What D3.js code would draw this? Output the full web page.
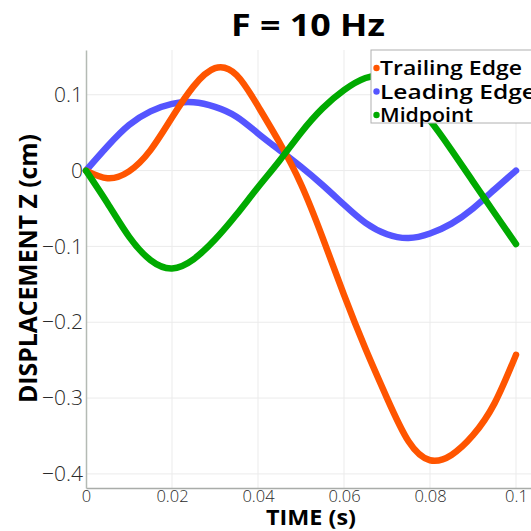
<!DOCTYPE html>
<html>
<head>
<meta charset="utf-8">
<script src="https://cdn.jsdelivr.net/npm/d3@7"></script>
<style>
  body { margin: 0; background: #fff; }
  svg { display: block; }
  .tick-label { fill: #2a2a2a; font-family: "Open Sans", sans-serif; font-weight: 300; }
</style>
</head>
<body>
<div id="chart"></div>
<script>
// --- data ---
const time = [0, 0.005, 0.01, 0.015, 0.02, 0.025, 0.03, 0.035, 0.04, 0.045, 0.05,
              0.055, 0.06, 0.065, 0.07, 0.075, 0.08, 0.085, 0.09, 0.095, 0.1];
const trailingEdge = [0, -0.010, -0.001, 0.027, 0.070, 0.111, 0.135, 0.126, 0.085, 0.037, -0.018,
                      -0.088, -0.164, -0.235, -0.300, -0.357, -0.382, -0.375, -0.349, -0.307, -0.243];
const leadingEdge = [0, 0.032, 0.060, 0.078, 0.088, 0.090, 0.084, 0.071, 0.049, 0.027, 0.005,
                     -0.019, -0.045, -0.069, -0.084, -0.089, -0.083, -0.070, -0.050, -0.025, 0];
const midpoint = [0, -0.043, -0.087, -0.118, -0.129, -0.117, -0.091, -0.058, -0.022, 0.013, 0.050,
                  0.082, 0.106, 0.122, 0.122, 0.098, 0.066, 0.027, -0.0145, -0.056, -0.097];
const xTicks = [0, 0.02, 0.04, 0.06, 0.08, 0.1];
const yTicks = [0.1, 0, -0.1, -0.2, -0.3, -0.4];
const seriesNames = ["Trailing Edge", "Leading Edge", "Midpoint"];
const seriesColors = ["#ff5500", "#5555ff", "#00aa00"];

const W = 531, H = 531;
const margin = { top: 50, left: 86, bottom: 43 };

const svg = d3.select("#chart").append("svg")
  .attr("width", W)
  .attr("height", H);

// scales
const x = d3.scaleLinear().domain([0, 0.105]).range([margin.left, 537.5]);
const y = d3.scaleLinear().domain([-0.4186, 0.159]).range([H - margin.bottom, margin.top]);

// grid
const grid = svg.append("g").attr("class", "grid");
grid.selectAll("line.v").data(xTicks.slice(1)).enter().append("line")
  .attr("x1", d => x(d)).attr("x2", d => x(d))
  .attr("y1", y.range()[1]).attr("y2", y.range()[0])
  .attr("stroke", "#ebebeb").attr("stroke-width", 1);
grid.selectAll("line.h").data(yTicks).enter().append("line")
  .attr("x1", x.range()[0]).attr("x2", x.range()[1])
  .attr("y1", d => y(d)).attr("y2", d => y(d))
  .attr("stroke", "#ebebeb").attr("stroke-width", 1);

// axes
const xAxis = svg.append("g")
  .attr("transform", `translate(0, ${y.range()[0]})`)
  .call(d3.axisBottom(x).tickValues(xTicks).tickSize(0).tickPadding(2).tickFormat(d => d3.format("~g")(d)));
const yAxis = svg.append("g")
  .attr("transform", `translate(${x.range()[0]}, 0)`)
  .call(d3.axisLeft(y).tickValues(yTicks).tickSize(0).tickPadding(3).tickFormat(d => d3.format("~g")(d)));

xAxis.select(".domain").attr("stroke", "#a9aca9").attr("stroke-width", 1.5);
yAxis.select(".domain").attr("stroke", "#b4bab4").attr("stroke-width", 1.5);
xAxis.selectAll("text").attr("class", "tick-label").style("font-size", "16.5px");
yAxis.selectAll("text").attr("class", "tick-label").style("font-size", "21px");

// series lines (blue underneath, green on top)
const line = d3.line()
  .x((d, i) => x(time[i]))
  .y(d => y(d))
  .curve(d3.curveNatural);

const series = [trailingEdge, leadingEdge, midpoint];
[1, 0, 2].forEach(k => {
  svg.append("path")
    .datum(series[k])
    .attr("fill", "none")
    .attr("stroke", seriesColors[k])
    .attr("stroke-width", 6.5)
    .attr("stroke-linecap", "round")
    .attr("stroke-linejoin", "round")
    .attr("d", line);
});

// titles
svg.append("text")
  .attr("x", 308).attr("y", 36)
  .attr("text-anchor", "middle")
  .attr("textLength", 154).attr("lengthAdjust", "spacingAndGlyphs")
  .style("font-family", "'Open Sans', sans-serif")
  .style("font-weight", 700).style("font-size", "30px")
  .text("F = 10 Hz");

svg.append("text")
  .attr("x", 311).attr("y", 525)
  .attr("text-anchor", "middle")
  .attr("textLength", 90).attr("lengthAdjust", "spacingAndGlyphs")
  .style("font-family", "'Open Sans', sans-serif")
  .style("font-weight", 700).style("font-size", "21px")
  .text("TIME (s)");

svg.append("text")
  .attr("transform", "translate(37, 268.5) rotate(-90)")
  .attr("text-anchor", "middle")
  .attr("textLength", 269).attr("lengthAdjust", "spacingAndGlyphs")
  .style("font-family", "'Open Sans', sans-serif")
  .style("font-weight", 700).style("font-size", "25px")
  .text("DISPLACEMENT Z (cm)");

// legend
const legend = svg.append("g").attr("transform", "translate(371, 50)");
legend.append("rect")
  .attr("x", 0).attr("y", 0).attr("width", 200).attr("height", 73)
  .attr("fill", "#fff").attr("stroke", "#b0b0b0").attr("stroke-width", 1);
const rows = legend.selectAll("g.row").data(seriesNames).enter().append("g")
  .attr("transform", (d, i) => `translate(0, ${18 + i * 23.5})`);
rows.append("circle")
  .attr("cx", 5.5).attr("cy", 0).attr("r", 3.2)
  .attr("fill", (d, i) => seriesColors[i]);
rows.append("text")
  .attr("x", 9).attr("y", 7)
  .attr("textLength", (d, i) => [142, 156, 93][i]).attr("lengthAdjust", "spacingAndGlyphs")
  .style("font-family", "'Open Sans', sans-serif")
  .style("font-weight", 600).style("font-size", "19px")
  .style("fill", "#000")
  .text(d => d);
</script>
</body>
</html>
